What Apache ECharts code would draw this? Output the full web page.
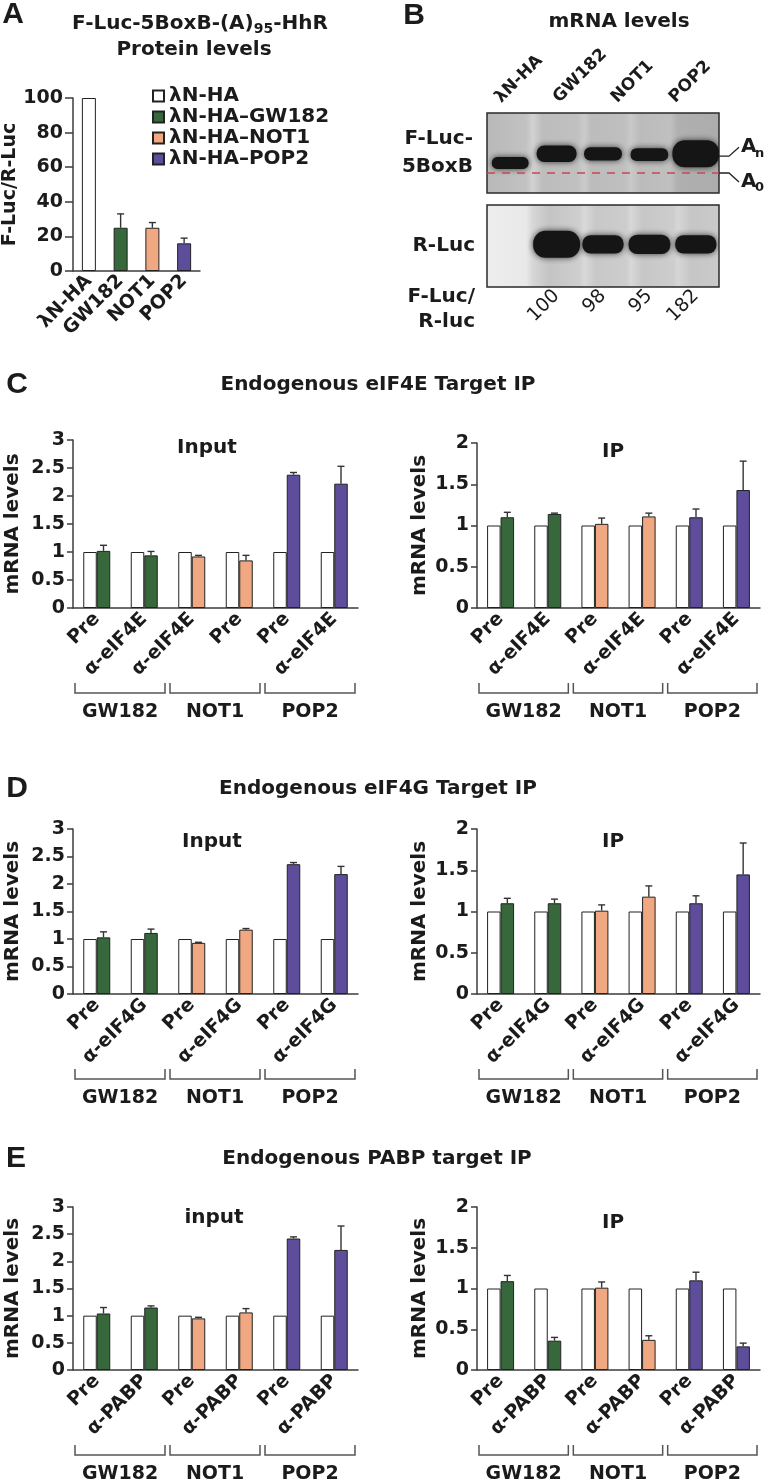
<!DOCTYPE html>
<html><head><meta charset="utf-8">
<script src="https://cdn.jsdelivr.net/npm/echarts@6/dist/echarts.min.js"></script>
<style>html,body{margin:0;padding:0;background:#fff}#c{width:773px;height:1483px}</style>
</head><body><div id="c"></div>
<script>
// ---------- DATA ----------
// Panel A
const aCategories = ['λN-HA', 'GW182', 'NOT1', 'POP2'];
const aLegendNames = ['λN-HA', 'λN-HA–GW182', 'λN-HA–NOT1', 'λN-HA–POP2'];
const aValues = [100, 25, 25, 16];
const aErrTop = [null, 33, 28, 19];
// Panel B (gel)
const bLanes = ['A0', 'λN-HA', 'GW182', 'NOT1', 'POP2'];
const bLaneLabels = ['λN-HA', 'GW182', 'NOT1', 'POP2'];
const fLucMobility = [0.375, 0.49, 0.49, 0.48, 0.49];
const fLucSignal = [0.2, 0.45, 0.28, 0.26, 1.0];
const rLucMobility = [0.52, 0.52, 0.52, 0.52, 0.52];
const rLucSignal = [0, 1, 0.55, 0.6, 0.55];
const bRatioLabels = ['', '100', '98', '95', '182'];
const anMobility = 0.46;
const a0Mobility = 0.25;
// Panel C
const cInCats = ['Pre', 'α-eIF4E', 'α-eIF4E', 'Pre', 'Pre', 'α-eIF4E'];
const cInCtrl = [1, 1, 1, 1, 1, 1];
const cInVal = [1.02, 0.94, 0.92, 0.85, 2.38, 2.22];
const cInErr = [1.12, 1.01, 0.94, 0.94, 2.42, 2.53];
const cIpCats = ['Pre', 'α-eIF4E', 'Pre', 'α-eIF4E', 'Pre', 'α-eIF4E'];
const cIpCtrl = [1, 1, 1, 1, 1, 1];
const cIpVal = [1.10, 1.14, 1.02, 1.11, 1.10, 1.43];
const cIpErr = [1.16, 1.15, 1.09, 1.15, 1.20, 1.78];
// Panel D
const dCats = ['Pre', 'α-eIF4G', 'Pre', 'α-eIF4G', 'Pre', 'α-eIF4G'];
const dInCtrl = [1, 1, 1, 1, 1, 1];
const dInVal = [1.03, 1.11, 0.93, 1.17, 2.36, 2.18];
const dInErr = [1.13, 1.18, 0.94, 1.19, 2.39, 2.32];
const dIpCtrl = [1, 1, 1, 1, 1, 1];
const dIpVal = [1.10, 1.10, 1.01, 1.18, 1.10, 1.45];
const dIpErr = [1.16, 1.15, 1.08, 1.31, 1.19, 1.83];
// Panel E
const eCats = ['Pre', 'α-PABP', 'Pre', 'α-PABP', 'Pre', 'α-PABP'];
const eInCtrl = [1, 1, 1, 1, 1, 1];
const eInVal = [1.04, 1.15, 0.95, 1.06, 2.42, 2.21];
const eInErr = [1.15, 1.18, 0.97, 1.13, 2.45, 2.65];
const eIpCtrl = [1, 1, 1, 1, 1, 1];
const eIpVal = [1.09, 0.36, 1.01, 0.37, 1.10, 0.29];
const eIpErr = [1.16, 0.40, 1.08, 0.42, 1.20, 0.33];
const groupNames = ['GW182', 'NOT1', 'POP2'];

// ---------- STYLE ----------
const FF = '"DejaVu Sans", sans-serif';
const TXT = '#1b1b1b';
const AX = '#3c3c3c';
const GREEN = '#36683c', ORANGE = '#f0a882', PURPLE = '#5d4d9b';
const aColors = ['#ffffff', GREEN, ORANGE, PURPLE];
const pairColors = [GREEN, GREEN, ORANGE, ORANGE, PURPLE, PURPLE];
const boldTxt = (size) => ({color: TXT, fontFamily: FF, fontWeight: 'bold', fontSize: size});

const grids = [], xAxes = [], yAxes = [], series = [], graphics = [];

function txt(text, x, y, size, align, opts) {
  graphics.push(Object.assign({
    type: 'text', x: x, y: y,
    style: {text: text, font: 'bold ' + size + 'px ' + FF, fill: TXT,
      align: align || 'center', textAlign: align || 'center', verticalAlign: 'middle', textVerticalAlign: 'middle'}
  }, opts || {}));
}
function letter(t, x, y) {
  graphics.push({type: 'text', x: x, y: y, style: {text: t, font: 'bold 30px "Liberation Sans", Arial, sans-serif', fill: TXT,
    align: 'center', textAlign: 'center', verticalAlign: 'middle', textVerticalAlign: 'middle'}});
}

// ---------- PANEL A ----------
grids.push({left: 73, top: 98, width: 127, height: 173});
xAxes.push({gridIndex: 0, type: 'category', data: aCategories,
  axisLine: {lineStyle: {color: AX, width: 1.5}}, axisTick: {show: false},
  axisLabel: Object.assign({rotate: 45, interval: 0, margin: 7}, boldTxt(19))});
yAxes.push({gridIndex: 0, type: 'value', min: 0, max: 100, interval: 20,
  name: 'F-Luc/R-Luc', nameLocation: 'middle', nameGap: 52, nameTextStyle: boldTxt(19),
  axisLine: {show: true, lineStyle: {color: AX, width: 1.5}},
  axisTick: {show: true, length: 8, lineStyle: {color: AX, width: 1.5}},
  splitLine: {show: false}, axisLabel: Object.assign({margin: 10}, boldTxt(19))});
aLegendNames.forEach((n, i) => {
  series.push({type: 'bar', name: n, xAxisIndex: 0, yAxisIndex: 0, stack: 'a', barWidth: 14,
    data: aValues.map((v, j) => j === i ? v : '-'),
    itemStyle: {color: aColors[i], borderColor: '#222', borderWidth: 1}});
});

function errRender(off) {
  return function (params, api) {
    const i = api.value(0), v = api.value(1), e = api.value(2);
    if (isNaN(e)) return null;
    const p0 = api.coord([i, v]), p1 = api.coord([i, e]);
    const x = p0[0] + off;
    return {type: 'group', children: [
      {type: 'line', shape: {x1: x, y1: p0[1], x2: x, y2: p1[1]}, style: {stroke: '#333', lineWidth: 1.4}},
      {type: 'line', shape: {x1: x - 3.5, y1: p1[1], x2: x + 3.5, y2: p1[1]}, style: {stroke: '#333', lineWidth: 1.4}}
    ]};
  };
}
series.push({type: 'custom', xAxisIndex: 0, yAxisIndex: 0, z: 5, clip: false,
  renderItem: errRender(0),
  data: aValues.map((v, i) => [i, v, aErrTop[i] == null ? NaN : aErrTop[i]])});

// ---------- PANEL B (gel) ----------
const gelTopBg = {type: 'linear', x: 0, y: 0, x2: 1, y2: 0, colorStops: [
  {offset: 0, color: '#b8b8b8'}, {offset: 0.17, color: '#c2c2c2'}, {offset: 0.2, color: '#d2d2d2'},
  {offset: 0.24, color: '#bdbdbd'}, {offset: 0.39, color: '#c0c0c0'}, {offset: 0.42, color: '#cbcbcb'},
  {offset: 0.45, color: '#bcbcbc'}, {offset: 0.59, color: '#bfbfbf'}, {offset: 0.62, color: '#c9c9c9'},
  {offset: 0.66, color: '#bbbbbb'}, {offset: 0.79, color: '#c0c0c0'}, {offset: 0.82, color: '#b0b0b0'},
  {offset: 1, color: '#acacac'}]};
const gelBotBg = {type: 'linear', x: 0, y: 0, x2: 1, y2: 0, colorStops: [
  {offset: 0, color: '#ededed'}, {offset: 0.17, color: '#e9e9e9'}, {offset: 0.2, color: '#d6d6d6'},
  {offset: 0.27, color: '#c4c4c4'}, {offset: 0.4, color: '#cfcfcf'}, {offset: 0.42, color: '#d9d9d9'},
  {offset: 0.47, color: '#c8c8c8'}, {offset: 0.6, color: '#cdcdcd'}, {offset: 0.62, color: '#d8d8d8'},
  {offset: 0.67, color: '#c7c7c7'}, {offset: 0.8, color: '#cdcdcd'}, {offset: 0.82, color: '#d6d6d6'},
  {offset: 0.88, color: '#c6c6c6'}, {offset: 1, color: '#cacaca'}]};
grids.push({left: 487, top: 113, width: 232, height: 80, show: true, backgroundColor: gelTopBg, borderColor: '#2a2a2a', borderWidth: 1.5});
grids.push({left: 487, top: 205, width: 232, height: 82, show: true, backgroundColor: gelBotBg, borderColor: '#2a2a2a', borderWidth: 1.5});
// x axis 1: top gel lanes (hidden)
xAxes.push({gridIndex: 1, type: 'category', data: bLanes, axisLine: {show: false}, axisTick: {show: false}, axisLabel: {show: false}});
// x axis 2: lane-label positions on top (labels drawn by a custom series)
xAxes.push({gridIndex: 1, type: 'category', data: bLaneLabels, position: 'top', axisLine: {show: false}, axisTick: {show: false}, axisLabel: {show: false}});
// x axis 3: bottom gel lanes with ratios
xAxes.push({gridIndex: 2, type: 'category', data: bLanes, axisLine: {show: false}, axisTick: {show: false},
  axisLabel: {rotate: 45, interval: 0, margin: 6, color: TXT, fontFamily: FF, fontSize: 19,
    formatter: (v, i) => bRatioLabels[i]}});
yAxes.push({gridIndex: 1, type: 'value', min: 0, max: 1, axisLine: {show: false}, axisTick: {show: false}, axisLabel: {show: false}, splitLine: {show: false},
  name: 'F-Luc-\n5BoxB', nameLocation: 'middle', nameRotate: 0, nameGap: 14,
  nameTextStyle: Object.assign({align: 'right', lineHeight: 28}, boldTxt(20))});
yAxes.push({gridIndex: 2, type: 'value', min: 0, max: 1, axisLine: {show: false}, axisTick: {show: false}, axisLabel: {show: false}, splitLine: {show: false},
  name: 'R-Luc', nameLocation: 'middle', nameRotate: 0, nameGap: 12,
  nameTextStyle: Object.assign({align: 'right', padding: [0, 0, 12, 0]}, boldTxt(20))});

function bandRender(params, api) {
  const s = api.value(2);
  if (!(s > 0)) return null;
  const c = api.coord([api.value(0), api.value(1)]);
  const w = api.size([1, 0])[0] * (0.74 + 0.27 * s);
  const h = 8 + 19 * s;
  return {type: 'rect', shape: {x: c[0] - w / 2, y: c[1] - h / 2, width: w, height: h, r: h / 2.2},
    style: {fill: '#151515', shadowBlur: 6, shadowColor: 'rgba(15,15,15,0.8)'}};
}
series.push({type: 'custom', xAxisIndex: 1, yAxisIndex: 1, renderItem: bandRender, clip: true,
  data: bLanes.map((l, i) => [i, fLucMobility[i], fLucSignal[i]]),
  markLine: {silent: true, symbol: 'none', label: {show: false}, animation: false,
    lineStyle: {color: '#c8465a', type: [8, 7], width: 1.6}, data: [{yAxis: a0Mobility}]}});
series.push({type: 'custom', xAxisIndex: 3, yAxisIndex: 2, renderItem: bandRender, clip: true,
  data: bLanes.map((l, i) => [i, rLucMobility[i], rLucSignal[i]])});
// lane labels above the gel (rotated, reading upward)
series.push({type: 'custom', xAxisIndex: 2, yAxisIndex: 1, clip: false, z: 10,
  data: bLaneLabels.map((l, i) => [i, 1]),
  renderItem: function (params, api) {
    const p = api.coord([api.value(0), api.value(1)]);
    return {type: 'text', x: p[0] - 18, y: p[1] - 13, rotation: Math.PI / 4,
      style: {text: bLaneLabels[params.dataIndex], font: 'bold 17px ' + FF, fill: TXT, align: 'left', verticalAlign: 'middle'}};
  }});
// An / A0 annotations
series.push({type: 'custom', xAxisIndex: 1, yAxisIndex: 1, clip: false, z: 10,
  data: [[bLanes.length - 1, anMobility], [bLanes.length - 1, a0Mobility]],
  renderItem: function (params, api) {
    const idx = params.dataIndex;
    const p = api.coord([api.value(0), api.value(1)]);
    const cs = params.coordSys; const r = cs.x + cs.width;
    const dir = idx === 0 ? -1 : 1;
    const y = p[1], ye = y + dir * 9;
    return {type: 'group', children: [
      {type: 'polyline', shape: {points: [[r, y], [r + 10, y], [r + 20, ye]]}, style: {stroke: '#222', lineWidth: 1.3, fill: 'none'}},
      {type: 'text', style: {x: r + 22, y: ye, text: 'A', font: 'bold 20px ' + FF, fill: TXT, align: 'left', verticalAlign: 'middle'}},
      {type: 'text', style: {x: r + 36, y: ye + 6, text: idx === 0 ? 'n' : '0', font: 'bold 13px ' + FF, fill: TXT, align: 'left', verticalAlign: 'middle'}}
    ]};
  }});

// ---------- PANELS C, D, E ----------
function bracketRender(params, api) {
  const a = api.coord([api.value(0), 0]), b = api.coord([api.value(1), 0]);
  const half = api.size([1, 0])[0] / 2;
  const x1 = a[0] - half + 2, x2 = b[0] + half - 3;
  const yb = a[1] + 85, yt = yb - 10;
  return {type: 'group', children: [
    {type: 'polyline', shape: {points: [[x1, yt], [x1, yb], [x2, yb], [x2, yt]]}, style: {stroke: '#555', lineWidth: 1.5, fill: 'none'}},
    {type: 'text', style: {x: (x1 + x2) / 2, y: yb + 19, text: groupNames[params.dataIndex], font: 'bold 19px ' + FF, fill: TXT,
      align: 'center', verticalAlign: 'middle'}}
  ]};
}
function barPanel(g, cats, ctrl, vals, errs, max, nameGap) {
  grids.push(g);
  const gi = grids.length - 1;
  xAxes.push({gridIndex: gi, type: 'category', data: cats,
    axisLine: {lineStyle: {color: AX, width: 1.5}}, axisTick: {show: false},
    axisLabel: Object.assign({rotate: 45, interval: 0, margin: 8}, boldTxt(19))});
  yAxes.push({gridIndex: gi, type: 'value', min: 0, max: max, interval: 0.5,
    name: 'mRNA levels', nameLocation: 'middle', nameGap: nameGap, nameTextStyle: boldTxt(20),
    axisLine: {show: true, lineStyle: {color: AX, width: 1.5}},
    axisTick: {show: true, length: 6, lineStyle: {color: AX, width: 1.5}},
    splitLine: {show: false}, axisLabel: Object.assign({margin: 8}, boldTxt(19))});
  const xi = xAxes.length - 1, yi = yAxes.length - 1;
  series.push({type: 'bar', xAxisIndex: xi, yAxisIndex: yi, data: ctrl, barWidth: 13.5, barGap: '0%',
    itemStyle: {color: '#ffffff', borderColor: '#222', borderWidth: 1}});
  series.push({type: 'bar', xAxisIndex: xi, yAxisIndex: yi, barWidth: 13.5, barGap: '0%',
    data: vals.map((v, i) => ({value: v, itemStyle: {color: pairColors[i]}})),
    itemStyle: {borderColor: '#222', borderWidth: 1}});
  series.push({type: 'custom', xAxisIndex: xi, yAxisIndex: yi, z: 5, clip: false,
    renderItem: errRender(6.75), data: vals.map((v, i) => [i, v, errs[i]])});
  series.push({type: 'custom', xAxisIndex: xi, yAxisIndex: yi, z: 5, clip: false,
    renderItem: bracketRender, data: groupNames.map((n, i) => [2 * i, 2 * i + 1])});
}
barPanel({left: 73, top: 440, width: 285, height: 168}, cInCats, cInCtrl, cInVal, cInErr, 3, 50);
barPanel({left: 477, top: 443, width: 283, height: 165}, cIpCats, cIpCtrl, cIpVal, cIpErr, 2, 47);
barPanel({left: 73, top: 829, width: 285, height: 165}, dCats, dInCtrl, dInVal, dInErr, 3, 50);
barPanel({left: 477, top: 829, width: 283, height: 165}, dCats, dIpCtrl, dIpVal, dIpErr, 2, 47);
barPanel({left: 73, top: 1207, width: 285, height: 163}, eCats, eInCtrl, eInVal, eInErr, 3, 50);
barPanel({left: 477, top: 1207, width: 283, height: 163}, eCats, eIpCtrl, eIpVal, eIpErr, 2, 47);

// ---------- TEXT ----------
letter('A', 13, 15); letter('B', 414, 16); letter('C', 17, 385); letter('D', 17, 789); letter('E', 16, 1159);
graphics.push({type: 'text', x: 200, y: 24, style: {
  text: '{t|F-Luc-5BoxB-(A)}{s|95}{t|-HhR}', align: 'center', textAlign: 'center', verticalAlign: 'middle', textVerticalAlign: 'middle',
  rich: {t: {fontFamily: FF, fontWeight: 'bold', fontSize: 20, fill: TXT, verticalAlign: 'middle'},
         s: {fontFamily: FF, fontWeight: 'bold', fontSize: 14, fill: TXT, verticalAlign: 'top', padding: [11, 0, 0, 0]}}}});
txt('Protein levels', 194, 50, 20);
txt('mRNA levels', 619, 22, 20);
txt('F-Luc/', 475, 297, 20, 'right');
txt('R-luc', 475, 322, 20, 'right');
txt('Endogenous eIF4E Target IP', 378, 385, 20);
txt('Endogenous eIF4G Target IP', 378, 789, 20);
txt('Endogenous PABP target IP', 377, 1159, 20);
txt('Input', 207, 448, 20); txt('IP', 613, 452, 20);
txt('Input', 212, 842, 20); txt('IP', 613, 842, 20);
txt('input', 214, 1218, 20); txt('IP', 613, 1223, 20);

const option = {
  animation: false,
  backgroundColor: '#ffffff',
  grid: grids.map(g => Object.assign({containLabel: false, outerBoundsMode: 'none'}, g)),
  xAxis: xAxes, yAxis: yAxes, series: series, graphic: graphics,
  legend: {data: aLegendNames, orient: 'vertical', left: 152, top: 86, padding: 0,
    itemWidth: 11, itemHeight: 11, itemGap: 1, icon: 'rect',
    textStyle: Object.assign({lineHeight: 20, padding: [0, 0, 0, 0]}, boldTxt(20))}
};
const chart = echarts.init(document.getElementById('c'), null, {renderer: 'canvas'});
chart.setOption(option);
</script></body></html>
